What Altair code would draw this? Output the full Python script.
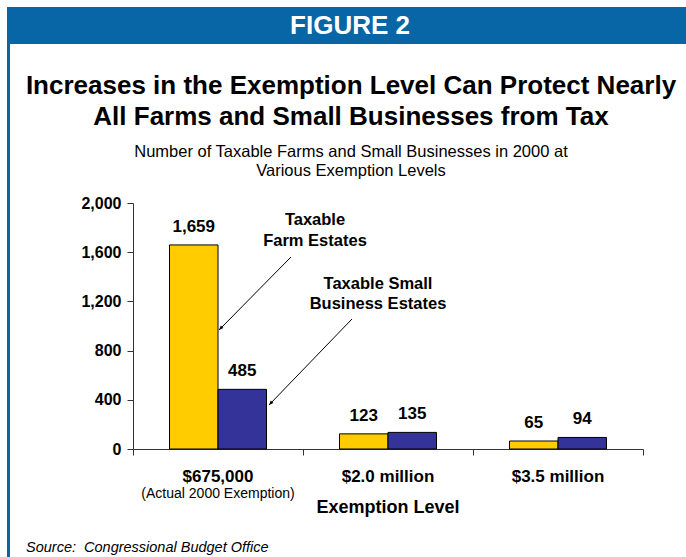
import altair as alt
import pandas as pd

# ---- data ----
levels = ["$675,000", "$2.0 million", "$3.5 million"]
series = ["Taxable Farm Estates", "Taxable Small Business Estates"]
farm_values = [1659, 123, 65]
business_values = [485, 135, 94]
level_notes = ["(Actual 2000 Exemption)", "", ""]
y_ticks = [0, 400, 800, 1200, 1600, 2000]

rows = []
for i, lvl in enumerate(levels):
    rows.append({"level": lvl, "series": series[0], "value": farm_values[i]})
    rows.append({"level": lvl, "series": series[1], "value": business_values[i]})
df = pd.DataFrame(rows)
cat_df = pd.DataFrame({"level": levels, "note": level_notes})
one = pd.DataFrame({"k": [0]})

FONT = "Liberation Sans"
W, H = 510, 246

x_scale = alt.Scale(domain=levels, paddingInner=0, paddingOuter=0)
x_off_scale = alt.Scale(domain=series, paddingInner=0, paddingOuter=0.7526)
y_scale = alt.Scale(domain=[0, 2000], nice=False)

bars = alt.Chart(df).mark_bar(stroke="black", strokeWidth=1).encode(
    x=alt.X("level:N", sort=levels, scale=x_scale,
            axis=alt.Axis(labels=False, title=None, tickBand="extent", tickSize=6,
                          domainColor="#333333", tickColor="#333333", grid=False,
                          domainWidth=1, tickWidth=1)),
    xOffset=alt.XOffset("series:N", sort=series, scale=x_off_scale),
    y=alt.Y("value:Q", scale=y_scale,
            axis=alt.Axis(values=y_ticks, format=",.0f", title=None, grid=False,
                          labelFontWeight="bold", labelFontSize=16, labelColor="black",
                          labelFont=FONT, tickSize=6, labelPadding=6,
                          tickColor="#333333", domainColor="#333333")),
    color=alt.Color("series:N", sort=series,
                    scale=alt.Scale(domain=series, range=["#FFCC00", "#333399"]),
                    legend=None),
)

value_labels = alt.Chart(df).mark_text(
    baseline="bottom", dy=-9, fontWeight="bold", fontSize=17, font=FONT, color="black"
).encode(
    x=alt.X("level:N", sort=levels, scale=x_scale),
    xOffset=alt.XOffset("series:N", sort=series, scale=x_off_scale),
    y=alt.Y("value:Q", scale=y_scale),
    text=alt.Text("value:Q", format=",.0f"),
)

cat_labels = alt.Chart(cat_df).mark_text(
    baseline="middle", fontWeight="bold", fontSize=17, font=FONT, color="black"
).encode(
    x=alt.X("level:N", sort=levels, scale=x_scale),
    y=alt.value(274),
    text="level:N",
)

cat_notes = alt.Chart(cat_df).mark_text(
    baseline="middle", fontSize=14, font=FONT, color="black"
).encode(
    x=alt.X("level:N", sort=levels, scale=x_scale),
    y=alt.value(291),
    text="note:N",
)

x_title = alt.Chart(one).mark_text(
    text="Exemption Level", baseline="middle", fontWeight="bold", fontSize=18, font=FONT, color="black"
).encode(x=alt.value(255), y=alt.value(305))

header = alt.Chart(one).mark_rect(color="#0866A6").encode(
    x=alt.value(-126), x2=alt.value(553), y=alt.value(-196), y2=alt.value(-159)
)
border = alt.Chart(one).mark_rect(color="#0866A6").encode(
    x=alt.value(-126), x2=alt.value(-123), y=alt.value(-160), y2=alt.value(360)
)
header_text = alt.Chart(one).mark_text(
    text="FIGURE 2", baseline="middle", fontWeight="bold", fontSize=26,
    font=FONT, color="white"
).encode(x=alt.value(217), y=alt.value(-177))

title = alt.Chart(one).mark_text(
    text=["Increases in the Exemption Level Can Protect Nearly",
          "All Farms and Small Businesses from Tax"],
    baseline="middle", fontWeight="bold", fontSize=26, font=FONT, color="black", lineHeight=31
).encode(x=alt.value(218), y=alt.value(-117))

subtitle = alt.Chart(one).mark_text(
    text=["Number of Taxable Farms and Small Businesses in 2000 at",
          "Various Exemption Levels"],
    baseline="middle", fontSize=16.5, font=FONT, color="black", lineHeight=19
).encode(x=alt.value(218), y=alt.value(-51))

ann1 = alt.Chart(one).mark_text(
    text=["Taxable", "Farm Estates"], baseline="middle", fontWeight="bold",
    fontSize=16.5, font=FONT, color="black", lineHeight=21
).encode(x=alt.value(182), y=alt.value(17))

ann2 = alt.Chart(one).mark_text(
    text=["Taxable Small", "Business Estates"], baseline="middle", fontWeight="bold",
    fontSize=16.5, font=FONT, color="black", lineHeight=20
).encode(x=alt.value(245), y=alt.value(81))

arrow1 = alt.Chart(one).mark_rule(color="black", strokeWidth=1).encode(
    x=alt.value(158), y=alt.value(54), x2=alt.value(86), y2=alt.value(127)
)
arrow2 = alt.Chart(one).mark_rule(color="black", strokeWidth=1).encode(
    x=alt.value(219), y=alt.value(116), x2=alt.value(136), y2=alt.value(202)
)
head_shape = "M0,0L-0.4,1L0.4,1Z"
head1 = alt.Chart(one).mark_point(
    shape=head_shape, filled=True, color="black", size=80, angle=225, opacity=1
).encode(x=alt.value(86), y=alt.value(127))
head2 = alt.Chart(one).mark_point(
    shape=head_shape, filled=True, color="black", size=80, angle=224, opacity=1
).encode(x=alt.value(136), y=alt.value(202))

source = alt.Chart(one).mark_text(
    text="Source:\u00a0 Congressional Budget Office", align="left", baseline="middle",
    fontStyle="italic", fontSize=14.5, font=FONT, color="black"
).encode(x=alt.value(-107), y=alt.value(345))

chart = alt.layer(
    header, border, header_text, title, subtitle,
    bars, value_labels, cat_labels, cat_notes, x_title,
    arrow1, arrow2, head1, head2, ann1, ann2, source
).properties(
    width=W, height=H,
    padding={"left": 133, "top": 203, "right": 43, "bottom": 108},
    autosize="none",
    background="white",
).configure_view(stroke=None)

chart.save("out.html", embed_options={"renderer": "svg", "actions": False})
